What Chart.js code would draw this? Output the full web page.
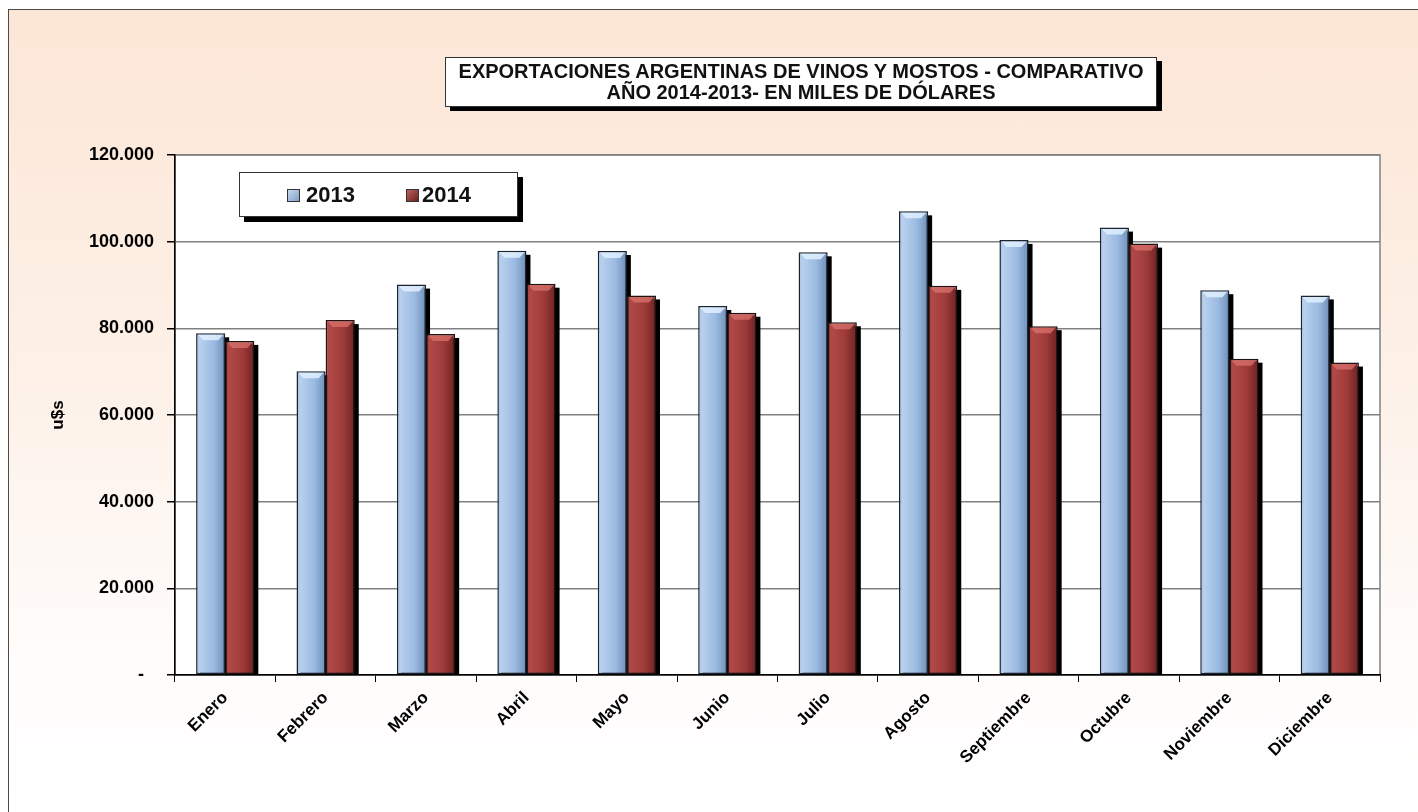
<!DOCTYPE html>
<html>
<head>
<meta charset="utf-8">
<script src="https://cdn.jsdelivr.net/npm/chart.js@4.4.1/dist/chart.umd.min.js"></script>
<style>
  html, body { margin: 0; padding: 0; width: 1418px; height: 812px; overflow: hidden; background: #fff; }
  #frame {
    position: absolute; left: 8px; top: 9px; width: 1430px; height: 830px;
    border-left: 1.5px solid #4a4a4a; border-top: 1.5px solid #4a4a4a;
    background: linear-gradient(to bottom, #fce6d6 0%, #fdf1e8 45%, #fffdfc 80%, #ffffff 100%);
  }
  #chart { position: absolute; left: 0; top: 0; }
  #title {
    position: absolute; left: 445px; top: 57px; width: 712px; height: 50px;
    background: #fff; border: 1px solid #333; box-shadow: 5px 4px 0 #000;
    font: bold 20px "Liberation Sans", Arial, sans-serif; color: #111;
    text-align: center; line-height: 21px; padding-top: 3px; box-sizing: border-box;
  }
  #legend {
    position: absolute; left: 239px; top: 172px; width: 277px; height: 43px;
    background: #fff; border: 1px solid #333; box-shadow: 5px 5px 0 #000;
    font: bold 22px "Liberation Sans", Arial, sans-serif; color: #111;
  }
  #legend .sw { position: absolute; top: 16px; width: 11px; height: 11px; border: 1px solid #333; }
  #legend .tx { position: absolute; top: 0; line-height: 43px; }
</style>
</head>
<body>
<div id="frame"></div>
<canvas id="chart" width="1418" height="812"></canvas>
<div id="title">EXPORTACIONES ARGENTINAS DE VINOS Y MOSTOS - COMPARATIVO<br>AÑO 2014-2013- EN MILES DE DÓLARES</div>
<div id="legend">
  <span class="sw" style="left:47px; background:linear-gradient(135deg,#c9daf0,#7f9fc8)"></span><span class="tx" style="left:66px">2013</span>
  <span class="sw" style="left:166px; background:linear-gradient(135deg,#c06060,#6e2020)"></span><span class="tx" style="left:182px">2014</span>
</div>
<script>
const months = ['Enero', 'Febrero', 'Marzo', 'Abril', 'Mayo', 'Junio', 'Julio',
    'Agosto', 'Septiembre', 'Octubre', 'Noviembre', 'Diciembre'];
const exports2013 = [78850, 70100, 90100, 97900, 97850, 85150, 97550, 107000, 100400, 103250, 88800, 87600];
const exports2014 = [77100, 81900, 78700, 90300, 87600, 83600, 81400, 89800, 80500, 99550, 73000, 72100];
const yTicks = [0, 20000, 40000, 60000, 80000, 100000, 120000];

const PLOT_LEFT = 175, PLOT_RIGHT = 1380, PLOT_TOP = 155, PLOT_BOTTOM = 675;
const GROUP = 0.58;

const FONT = '"Liberation Sans", Arial, sans-serif';

function fmt(v) {
    if (v === 0) return '-  ';
    return String(v).replace(/\B(?=(\d{3})+(?!\d))/g, '.');
}

// horizontal shading across each bar, built from the x scale
function barFill(light, mid, dark) {
    return function (c) {
        const chart = c.chart;
        const xs = chart.scales.x;
        if (!xs || !chart.chartArea || c.dataIndex === undefined) return mid;
        const catW = xs.width / months.length;
        const barW = catW * GROUP / 2;
        const left = xs.getPixelForValue(c.dataIndex) - catW * GROUP / 2 + c.datasetIndex * barW;
        const g = chart.ctx.createLinearGradient(left, 0, left + barW, 0);
        g.addColorStop(0, mid);
        g.addColorStop(0.12, light);
        g.addColorStop(0.6, mid);
        g.addColorStop(1, dark);
        return g;
    };
}

const plotFrame = {
    id: 'plotFrame',
    beforeDraw(chart) {
        const { ctx, chartArea: a } = chart;
        ctx.save();
        ctx.fillStyle = '#ffffff';
        ctx.fillRect(a.left, a.top, a.right - a.left, a.bottom - a.top);
        ctx.strokeStyle = '#808080';
        ctx.lineWidth = 1.5;
        ctx.strokeRect(a.left, a.top, a.right - a.left, a.bottom - a.top);
        ctx.restore();
    }
};

// black drop shadow behind every bar, light cap on top
const barShadow = {
    id: 'barShadow',
    beforeDatasetsDraw(chart) {
        const ctx = chart.ctx;
        ctx.save();
        ctx.fillStyle = '#000';
        chart.data.datasets.forEach((ds, i) => {
            chart.getDatasetMeta(i).data.forEach(bar => {
                const w = bar.width;
                ctx.fillRect(bar.x - w / 2 + 4, bar.y + 4, w, bar.base - bar.y - 4);
            });
        });
        ctx.restore();
    },
    afterDatasetsDraw(chart) {
        const ctx = chart.ctx;
        ctx.save();
        chart.data.datasets.forEach((ds, i) => {
            ctx.fillStyle = i === 0 ? 'rgba(225,240,255,0.85)' : 'rgba(215,110,105,0.8)';
            chart.getDatasetMeta(i).data.forEach(bar => {
                const l = bar.x - bar.width / 2, r = bar.x + bar.width / 2, t = bar.y;
                ctx.beginPath();
                ctx.moveTo(l + 2, t + 1.5);
                ctx.lineTo(r - 2, t + 1.5);
                ctx.lineTo(r - 7, t + 7);
                ctx.lineTo(l + 7, t + 7);
                ctx.closePath();
                ctx.fill();
            });
        });
        ctx.restore();
    }
};

new Chart(document.getElementById('chart'), {
    type: 'bar',
    data: {
        labels: months,
        datasets: [
            {
                label: '2013',
                data: exports2013,
                backgroundColor: barFill('#b9d0ee', '#9bbbe2', '#6f8fb8'),
                borderColor: '#1c2430',
                borderWidth: 1.5,
                borderSkipped: false,
                barPercentage: 1,
                categoryPercentage: GROUP
            },
            {
                label: '2014',
                data: exports2014,
                backgroundColor: barFill('#b04a48', '#9e3b3a', '#6e2222'),
                borderColor: '#1e1414',
                borderWidth: 1.5,
                borderSkipped: false,
                barPercentage: 1,
                categoryPercentage: GROUP
            }
        ]
    },
    options: {
        responsive: false,
        animation: false,
        layout: { padding: { left: 0, top: PLOT_TOP, right: 1418 - PLOT_RIGHT, bottom: 0 } },
        plugins: {
            legend: { display: false },
            title: { display: false },
            tooltip: { enabled: false }
        },
        scales: {
            x: {
                grid: {
                    offset: true,
                    drawOnChartArea: false,
                    color: '#000',
                    tickLength: 7,
                    lineWidth: 1
                },
                border: { color: '#000', width: 1.5 },
                ticks: {
                    autoSkip: false,
                    minRotation: 45,
                    maxRotation: 45,
                    padding: 6,
                    color: '#000',
                    font: { family: FONT, size: 17, weight: 'bold' }
                },
                afterFit(scale) { scale.height = 812 - PLOT_BOTTOM; }
            },
            y: {
                min: 0,
                max: 120000,
                afterBuildTicks(scale) { scale.ticks = yTicks.map(v => ({ value: v })); },
                grid: {
                    color: '#808080',
                    tickColor: '#000',
                    tickLength: 8,
                    lineWidth: 1.5
                },
                border: { color: '#000', width: 1.5 },
                ticks: {
                    padding: 13,
                    color: '#000',
                    font: { family: FONT, size: 18, weight: 'bold' },
                    callback: v => fmt(v)
                },
                title: {
                    display: true,
                    text: 'u$s',
                    color: '#000',
                    font: { family: FONT, size: 17, weight: 'bold' },
                    padding: { top: 48, bottom: 0 }
                },
                afterFit(scale) { scale.width = PLOT_LEFT; }
            }
        }
    },
    plugins: [plotFrame, barShadow]
});
</script>
</body>
</html>
